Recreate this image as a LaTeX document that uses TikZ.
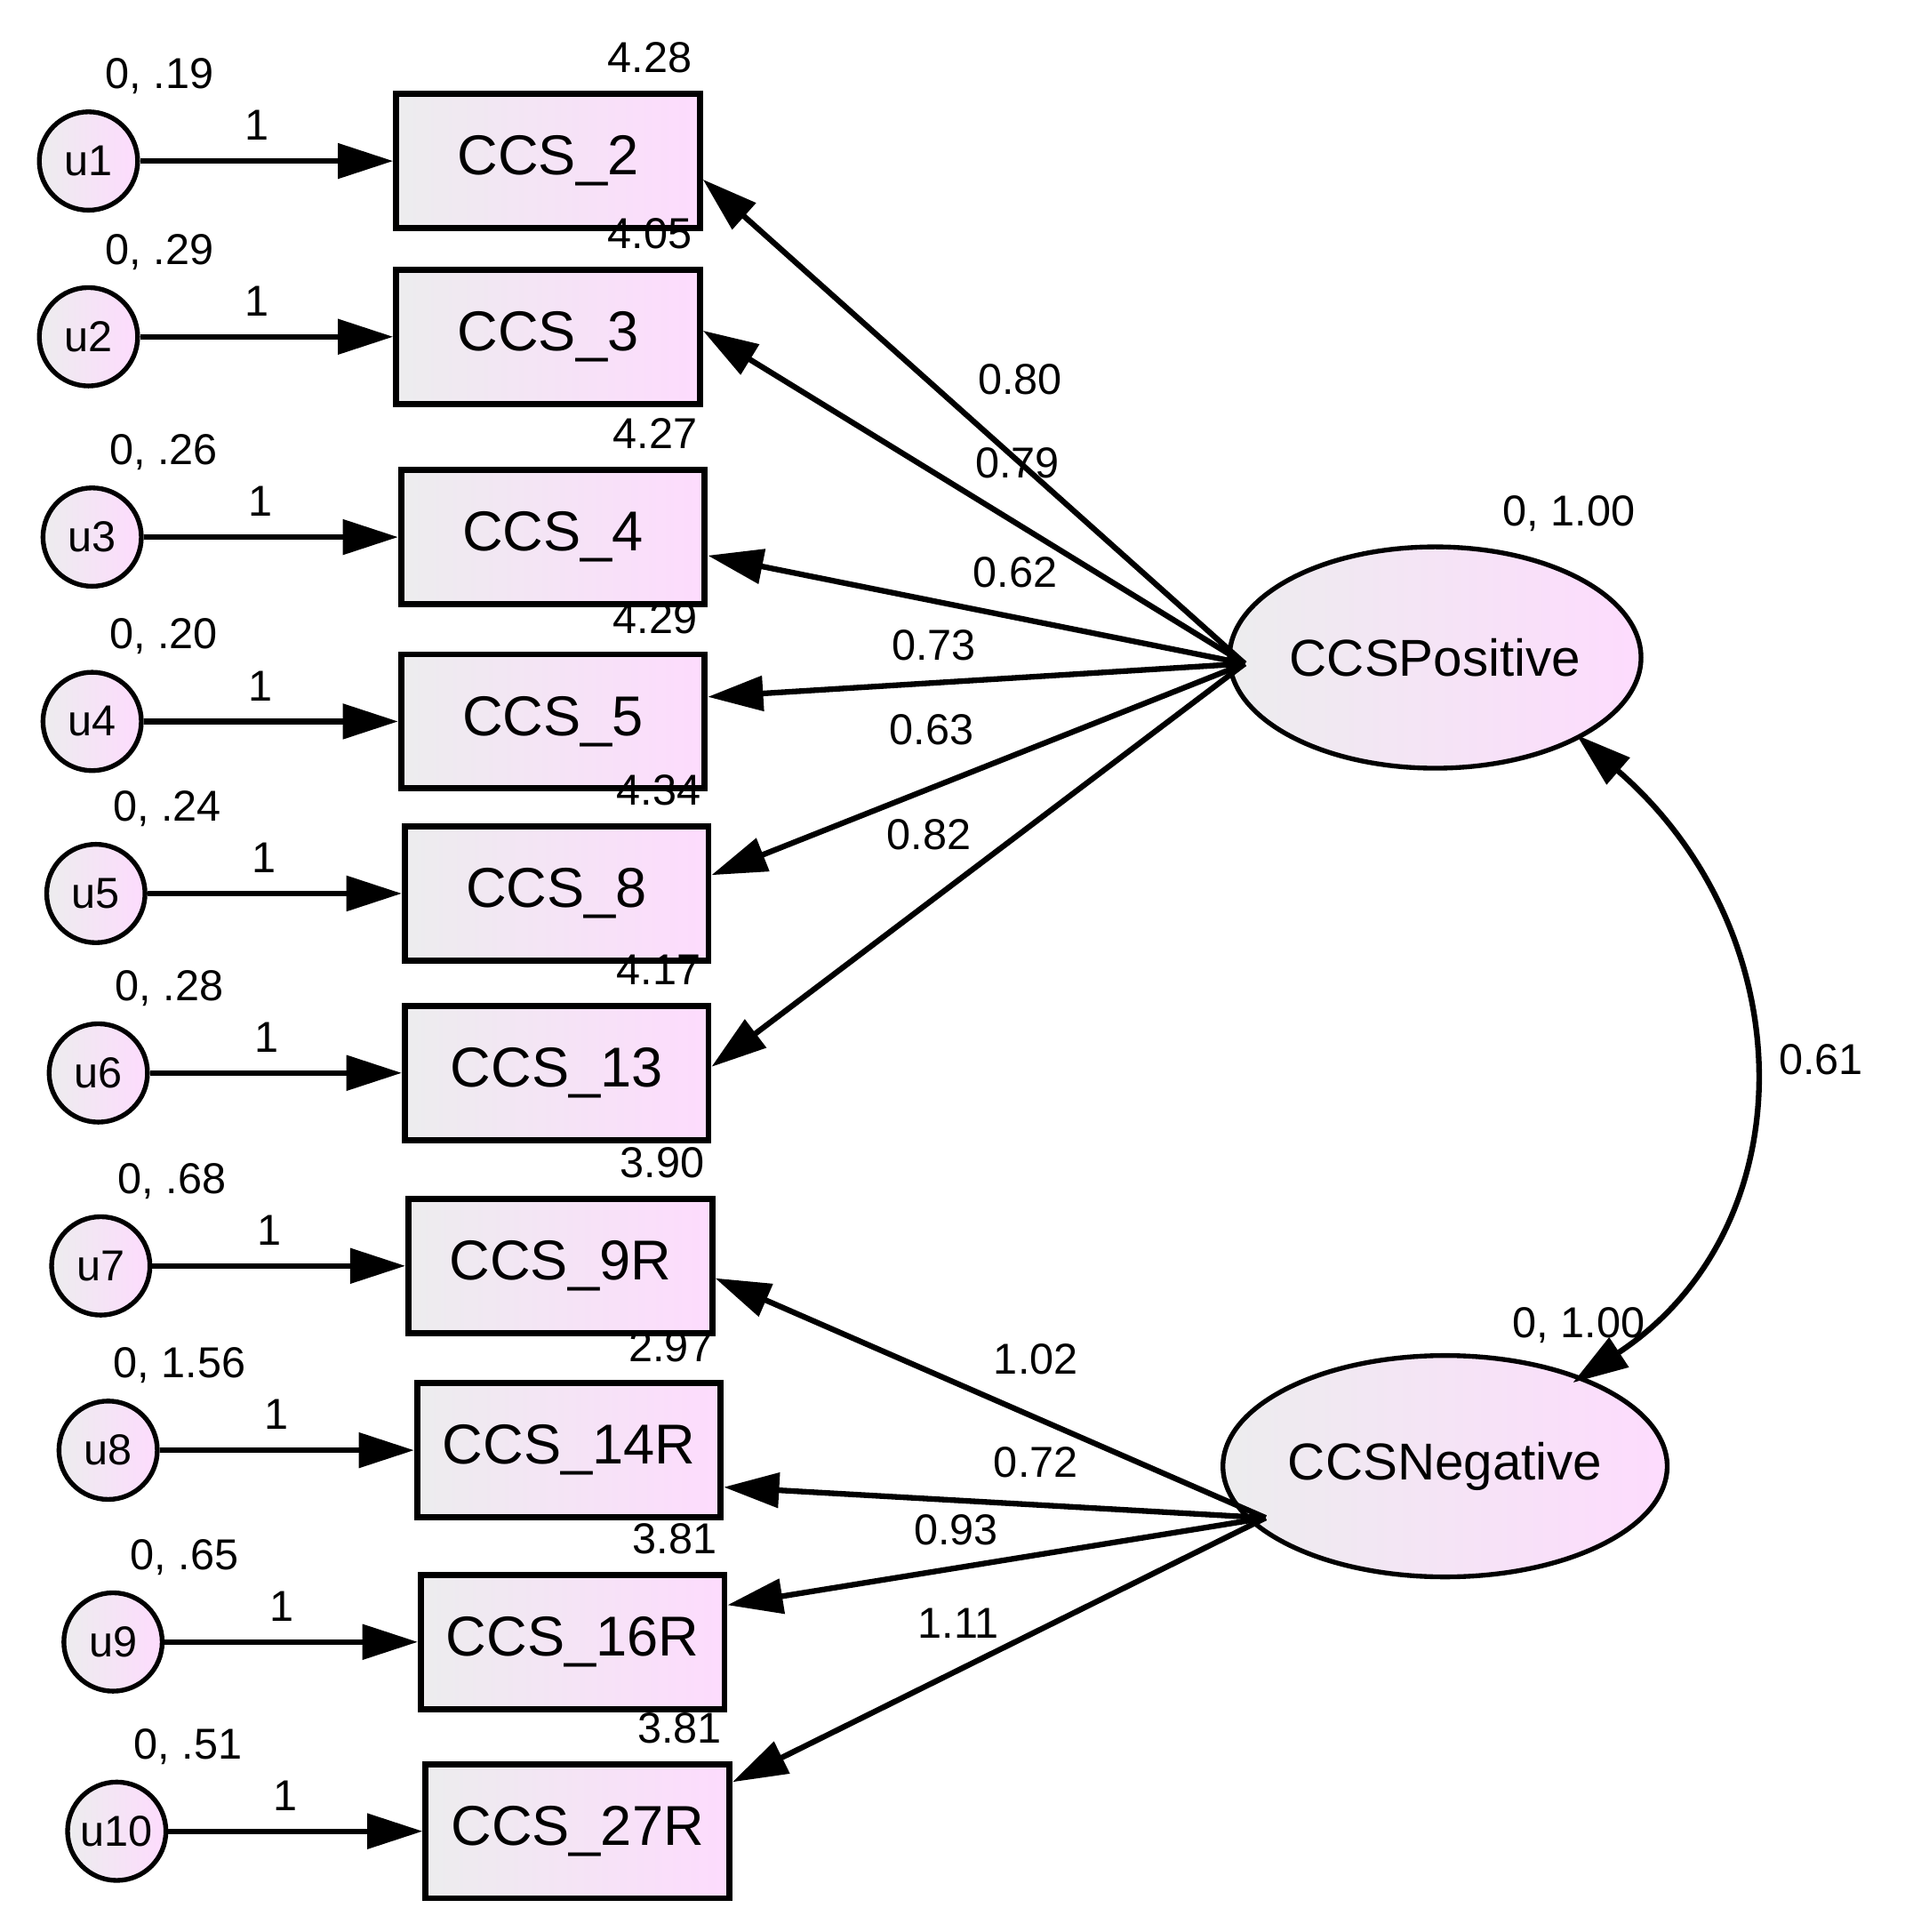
\documentclass[tikz,border=0pt]{standalone}
\usepackage{fontspec}
\setmainfont{Liberation Sans}
\usetikzlibrary{arrows.meta,shapes.geometric}
\begin{document}
\begin{tikzpicture}[x=0.01cm,y=-0.01cm,
  grad/.style={left color=blue!4!gray!14, right color=violet!10!magenta!14},
  err/.style={circle,draw,line width=1.1pt,minimum size=0.8cm,inner sep=0pt,grad,font=\fontsize{10}{12}\selectfont},
  obs/.style={rectangle,draw,line width=1.4pt,minimum width=2.47cm,minimum height=1.09cm,grad,font=\fontsize{13}{15}\selectfont},
  lat/.style={ellipse,draw,line width=1.1pt,minimum width=3.12cm,minimum height=1.8cm,inner sep=0pt,grad,font=\fontsize{12}{14}\selectfont},
  arr/.style={line width=1.3pt,-{Triangle[length=0.45cm,width=0.28cm]}},
  lab/.style={font=\fontsize{10}{12}\selectfont,inner sep=0pt}]
\useasboundingbox (0,0) rectangle (1550,1572);
% latent
\node[lat] (pos) at (1168,535) {CCSPositive};
\node[lat] (neg) at (1176,1193) {CCSNegative};
\coordinate (P) at (1013,540);
\coordinate (N) at (1030,1235);
\node[lab] at (1277,418) {0, 1.00};
\node[lab] at (1285,1078) {0, 1.00};
% indicators
\foreach \i/\name/\ux/\bx/\y/\var/\mean in {
 1/CCS\_2/72/446/131/{0, .19}/4.28,
 2/CCS\_3/72/446/274/{0, .29}/4.05,
 3/CCS\_4/75/450/437/{0, .26}/4.27,
 4/CCS\_5/75/450/587/{0, .20}/4.29,
 5/CCS\_8/78/453/727/{0, .24}/4.34,
 6/CCS\_13/80/453/873/{0, .28}/4.17,
 7/CCS\_9R/82/456/1030/{0, .68}/3.90,
 8/CCS\_14R/88/463/1180/{0, 1.56}/2.97,
 9/CCS\_16R/92/466/1336/{0, .65}/3.81,
 10/CCS\_27R/95/470/1490/{0, .51}/3.81}{
  \node[err] (u\i) at (\ux,\y) {u\i};
  \node[obs] (b\i) at (\bx,\y) {\name};
  \draw[arr] (u\i) -- (b\i);
  \node[lab] at (\ux+58,\y-69) {\var};
  \node[lab] at (\bx+83,\y-84) {\mean};
  \node[lab] at (\ux+137,\y-29) {1};
}
% loadings
\draw[arr] (P) -- ([yshift=-0.15cm]b1.east);
\draw[arr] (P) -- ([yshift=0.05cm]b2.east);
\draw[arr] (P) -- ([yshift=-0.15cm]b3.east);
\draw[arr] (P) -- ([yshift=0.2cm]b4.east);
\draw[arr] (P) -- ([yshift=0.15cm]b5.east);
\draw[arr] (P) -- ([yshift=0.05cm]b6.east);
\draw[arr] (N) -- ([yshift=-0.1cm]b7.east);
\draw[arr] (N) -- ([yshift=-0.3cm]b8.east);
\draw[arr] (N) -- ([yshift=0.3cm]b9.east);
\draw[arr] (N) -- ([yshift=0.4cm]b10.east);
\node[lab] at (830,309) {0.80};
\node[lab] at (828,377) {0.79};
\node[lab] at (826,466) {0.62};
\node[lab] at (760,525) {0.73};
\node[lab] at (758,594) {0.63};
\node[lab] at (756,679) {0.82};
\node[lab] at (843,1106) {1.02};
\node[lab] at (843,1190) {0.72};
\node[lab] at (778,1245) {0.93};
\node[lab] at (780,1321) {1.11};
% covariance
\draw[line width=1.3pt,{Triangle[length=0.45cm,width=0.28cm]}-{Triangle[length=0.45cm,width=0.28cm]}]
 (1283,598) .. controls (1470,760) and (1470,1000) .. (1280,1125);
\node[lab] at (1482,862) {0.61};
\end{tikzpicture}
\end{document}
